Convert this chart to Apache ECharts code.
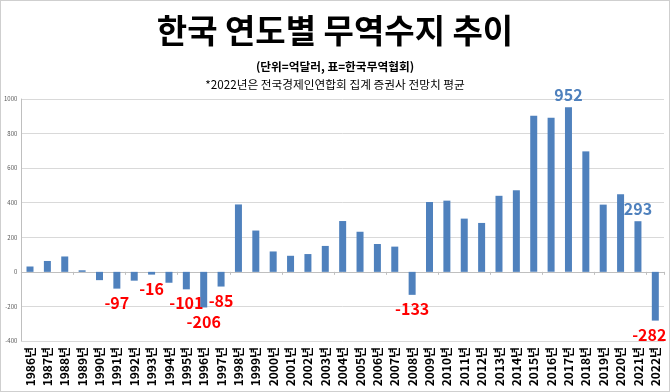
<!DOCTYPE html>
<html>
<head>
<meta charset="utf-8">
<script src="https://cdn.jsdelivr.net/npm/echarts@6/dist/echarts.min.js"></script>
<style>
html,body{margin:0;padding:0;background:#fff;}
#c{width:670px;height:392px;box-sizing:border-box;border:1px solid #cfcfcf;}
</style>
</head>
<body>
<div id="c"></div>
<script>
const years = ['1986','1987','1988','1989','1990','1991','1992','1993','1994','1995','1996','1997','1998','1999','2000','2001','2002','2003','2004','2005','2006','2007','2008','2009','2010','2011','2012','2013','2014','2015','2016','2017','2018','2019','2020','2021','2022'];
const categories = years.map(y => y + '년');
const balance = [31, 63, 89, 9, -48, -97, -51, -16, -63, -101, -206, -85, 390, 239, 118, 93, 103, 150, 294, 232, 161, 146, -133, 404, 412, 308, 283, 440, 472, 903, 892, 952, 697, 389, 449, 293, -282];
const redLabelYears = ['1991','1993','1995','1996','1997','2008','2022'];
const blueLabelYears = ['2017','2021'];
const yTicks = [-400, -200, 0, 200, 400, 600, 800, 1000];

const FONT = '"Noto Sans CJK KR", "Noto Sans", sans-serif';

const barData = balance.map((v, i) => {
  const y = years[i];
  const d = { value: v };
  if (redLabelYears.includes(y)) {
    d.label = { show: true, position: 'bottom', distance: 6, color: '#ff0000', fontSize: 16, fontWeight: 'bold', fontFamily: FONT };
    if (y === '2022') d.label.offset = [-6, 0];
  } else if (blueLabelYears.includes(y)) {
    d.label = { show: true, position: 'top', distance: 4, color: '#4f81bd', fontSize: 16, fontWeight: 'bold', fontFamily: FONT };
  }
  return d;
});

const chart = echarts.init(document.getElementById('c'));
chart.setOption({
  animation: false,
  title: [
    { text: '한국 연도별 무역수지 추이', left: 'center', top: 8,
      textStyle: { fontSize: 33, fontWeight: 'bold', color: '#000', fontFamily: FONT } },
    { text: '(단위=억달러, 표=한국무역협회)', left: 'center', top: 55,
      textStyle: { fontSize: 11.7, fontWeight: 'bold', color: '#000', fontFamily: FONT } },
    { text: '*2022년은 전국경제인연합회 집계 증권사 전망치 평균', left: 'center', top: 73,
      textStyle: { fontSize: 11.7, fontWeight: 'normal', color: '#000', fontFamily: FONT } }
  ],
  grid: { left: 17, right: 5, top: 98, bottom: 50, containLabel: false },
  xAxis: [
    { type: 'category', data: categories, position: 'bottom',
      axisLine: { show: false, onZero: false },
      axisTick: { show: false },
      axisLabel: { rotate: 90, interval: 0, fontSize: 12, fontWeight: 'bold', color: '#000', fontFamily: FONT, margin: 6 } },
    { type: 'category', data: categories, position: 'bottom',
      axisLine: { show: true, onZero: true, lineStyle: { color: '#bfbfbf', width: 1 } },
      axisTick: { show: true, length: 3, lineStyle: { color: '#bfbfbf' } },
      axisLabel: { show: false } }
  ],
  yAxis: {
    type: 'value', min: -400, max: 1000, interval: 200,
    axisLine: { show: true, lineStyle: { color: '#bfbfbf' } },
    axisTick: { show: false },
    axisLabel: { fontSize: 6, color: '#595959', margin: 4, fontFamily: FONT,
      customValues: yTicks, formatter: v => String(v) },
    splitLine: { lineStyle: { color: '#d9d9d9', width: 1 } }
  },
  series: [{
    type: 'bar', data: barData, xAxisIndex: 0,
    barWidth: 7,
    itemStyle: { color: '#4f81bd' },
    label: { show: false }
  }]
});
</script>
</body>
</html>
